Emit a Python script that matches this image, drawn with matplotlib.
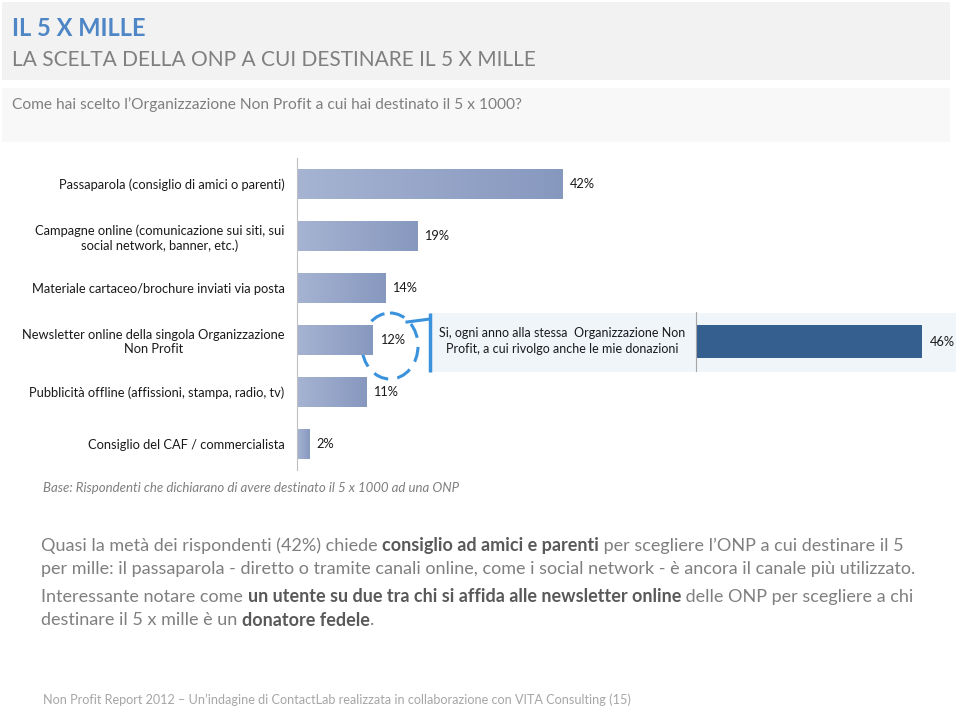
import numpy as np
import matplotlib
matplotlib.use('Agg')
from matplotlib import pyplot as plt
from matplotlib.patches import Rectangle, Ellipse
from matplotlib.colors import LinearSegmentedColormap

plt.rcParams['font.family'] = ['Lato', 'DejaVu Sans']

# --- data -------------------------------------------------------------
categories = ['Passaparola (consiglio di amici o parenti)',
              'Campagne online (comunicazione sui siti, sui\nsocial network, banner, etc.)',
              'Materiale cartaceo/brochure inviati via posta',
              'Newsletter online della singola Organizzazione\nNon Profit',
              'Pubblicità offline (affissioni, stampa, radio, tv)',
              'Consiglio del CAF / commercialista']
values = [42, 19, 14, 12, 11, 2]
loyal_label = 'Si, ogni anno alla stessa  Organizzazione Non\nProfit, a cui rivolgo anche le mie donazioni'
loyal_value = [46]

title = 'IL 5 X MILLE'
subtitle = 'LA SCELTA DELLA ONP A CUI DESTINARE IL 5 X MILLE'
question = 'Come hai scelto l’Organizzazione Non Profit a cui hai destinato il 5 x 1000?'
base_note = 'Base: Rispondenti che dichiarano di avere destinato il 5 x 1000 ad una ONP'
footer = ('Non Profit Report 2012 – Un’indagine di ContactLab realizzata '
          'in collaborazione con VITA Consulting (15)')
# (text, bold?) pieces for each line of the comment
comment = [
    [('Quasi la metà dei rispondenti (42%) chiede ', False),
     ('consiglio ad amici e parenti', True),
     (' per scegliere l’ONP a cui destinare il 5', False)],
    [('per mille: il passaparola - diretto o tramite canali online, come i social '
      'network - è ancora il canale più utilizzato.', False)],
    [('Interessante notare come ', False),
     ('un utente su due tra chi si affida alle newsletter online', True),
     (' delle ONP per scegliere a chi', False)],
    [('destinare il 5 x mille è un ', False),
     ('donatore fedele', True),
     ('.', False)],
]
comment_y = [546, 569, 597, 620]

W, H = 960, 710
fig = plt.figure(figsize=(W / 100, H / 100), dpi=100)


def px_axes(x0, y0, x1, y1):
    return fig.add_axes([x0 / W, 1 - y1 / H, (x1 - x0) / W, (y1 - y0) / H])


# background canvas in pixel units
bg = px_axes(0, 0, W, H)
bg.set_xlim(0, W)
bg.set_ylim(H, 0)
bg.axis('off')
bg.add_patch(Rectangle((2, 2), 948, 78, color='#f2f2f2', lw=0))
bg.add_patch(Rectangle((2, 88), 948, 54, color='#f8f8f8', lw=0))

bg.text(12, 29, title, color='#4f86c6', fontsize=17, fontweight='bold', va='center')
bg.text(12, 60, subtitle, color='#7f7f7f', fontsize=15, va='center')
bg.text(12, 105, question, color='#7f7f7f', fontsize=11.2, va='center')

# --- main bar chart -----------------------------------------------------
ax = px_axes(297, 158, 613, 470)
ax.set_facecolor('none')
cmap = LinearSegmentedColormap.from_list('bar', ['#a6b4d2', '#8798bf'])
grad = np.linspace(0, 1, 256).reshape(1, -1)
bars = ax.barh(range(len(values)), values, height=0.56, color='none', lw=0)
for bar in bars:
    x0, y0 = bar.get_x(), bar.get_y()
    im = ax.imshow(grad, extent=[x0, x0 + bar.get_width(), y0, y0 + bar.get_height()],
                   cmap=cmap, aspect='auto', interpolation='bicubic')
    im.set_clip_path(bar)
for i, v in enumerate(values):
    ax.text(v + 1.1, i, f'{v}%', va='center', ha='left', fontsize=9.2, color='#1a1a1a')
ax.set_xlim(0, 50)
ax.set_ylim(len(values) - 0.5, -0.5)
ax.set_xticks([])
ax.set_yticks(range(len(values)))
ax.set_yticklabels(categories, fontsize=9.3, color='#1a1a1a')
for lab in ax.get_yticklabels():
    lab.set_multialignment('center')
ax.tick_params(axis='y', length=0, pad=9)
for side in ['top', 'right', 'bottom']:
    ax.spines[side].set_visible(False)
ax.spines['left'].set_color('#bfbfbf')

# --- callout: loyal donors among newsletter readers ----------------------
bg.add_patch(Rectangle((430, 313), 526, 59, color='#f0f5fa', lw=0))
bg.plot([430, 430], [313, 372], color='#3a92dc', lw=2.5, solid_capstyle='butt')
bg.plot([407, 430], [322, 319], color='#3a92dc', lw=2.2)
bg.add_patch(Ellipse((390, 346), 56, 66, fill=False, ec='#3a92dc', lw=2.2,
                     ls=(0, (5, 3))))
bg.text(562, 341, loyal_label, ha='center', va='center', multialignment='center',
        fontsize=9.0, color='#1a1a1a', linespacing=1.35)

ax2 = px_axes(696, 312, 956, 371)
ax2.set_facecolor('none')
ax2.barh([0], loyal_value, height=0.56, color='#355f8f', lw=0)
ax2.text(loyal_value[0] + 1.6, 0, f'{loyal_value[0]}%', va='center', ha='left',
         fontsize=9.2, color='#1a1a1a')
ax2.set_xlim(0, 53)
ax2.set_ylim(-0.5, 0.5)
ax2.set_xticks([])
ax2.set_yticks([])
for side in ['top', 'right', 'bottom']:
    ax2.spines[side].set_visible(False)
ax2.spines['left'].set_color('#a6a6a6')

# --- notes and comment --------------------------------------------------
bg.text(43, 488, base_note, fontsize=9.5, style='italic', color='#7f7f7f', va='center')

renderer = fig.canvas.get_renderer()
for pieces, y in zip(comment, comment_y):
    x = 41
    for txt, bold in pieces:
        t = bg.text(x, y, txt, fontsize=13, va='center',
                    fontweight='bold' if bold else 'normal',
                    color='#595959' if bold else '#7f7f7f')
        x += t.get_window_extent(renderer).width

bg.text(43, 700, footer, fontsize=9.1, color='#a6a6a6', va='center')

fig.savefig('out.png', dpi=100)
